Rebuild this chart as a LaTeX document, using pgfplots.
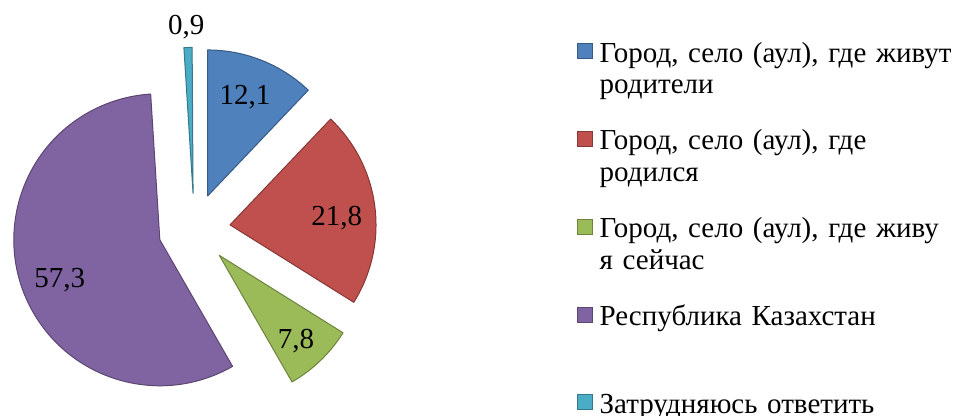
\documentclass[border=0pt]{standalone}
\usepackage{pgfplots}
\pgfplotsset{compat=1.18}
\usepackage{pgfplotstable}
\usepackage{fontspec}
\setmainfont{Liberation Serif}
\definecolor{cblue}{HTML}{4F81BD}
\definecolor{cred}{HTML}{C0504D}
\definecolor{cgreen}{HTML}{9BBB59}
\definecolor{cpurple}{HTML}{8064A2}
\definecolor{ccyan}{HTML}{4BACC6}

% value, colour, label distance from slice apex, label angle nudge (clockwise, deg)
\pgfplotstableread{
value col ldist loff
12.1 cblue 106 -1.2
21.8 cred 107 3.4
7.8 cgreen 115 2
57.3 cpurple 108 -5.2
0.9 ccyan 166 -0.4
}\piedata

\def\cx{194.3}\def\cy{186.6}\def\R{146}\def\ex{36}
\newcommand\lblfont{\fontsize{14.5}{16}\selectfont}

\begin{document}
\begin{tikzpicture}
\path[use as bounding box] (0,0) rectangle (476.5pt,208pt);
\begin{axis}[at={(0,0)}, anchor=south west, scale only axis,
  width=476.5pt, height=208pt, xmin=0, xmax=953, ymin=0, ymax=416,
  hide axis, clip=false,
  legend image code/.code={\filldraw[#1] (0pt,1.7pt) rectangle (7.5pt,9.2pt);},
  legend style={at={(0.6051,0.9050)}, anchor=north west, draw=none, fill=none,
    inner sep=0pt, row sep=12.2pt, column sep=3.3pt,
    cells={anchor=base west},
    nodes={inner sep=0pt, text width=200pt, align=left,
      text height=11.1pt, text depth=20.6pt,
      font=\fontsize{14.5}{15.85}\selectfont}},
]
\gdef\cum{0}
\pgfplotsforeachungrouped \ii in {0,...,4}{%
  \pgfplotstablegetelem{\ii}{value}\of\piedata \let\pv\pgfplotsretval
  \pgfplotstablegetelem{\ii}{col}\of\piedata \let\pc\pgfplotsretval
  \pgfplotstablegetelem{\ii}{ldist}\of\piedata \let\pld\pgfplotsretval
  \pgfplotstablegetelem{\ii}{loff}\of\piedata \let\plo\pgfplotsretval
  \pgfmathsetmacro\aS{90-3.6*\cum}%
  \pgfmathsetmacro\aE{90-3.6*(\cum+\pv)}%
  \pgfmathsetmacro\aM{(\aS+\aE)/2}%
  \pgfmathsetmacro\px{\cx+\ex*cos(\aM)}%
  \pgfmathsetmacro\py{\cy+\ex*sin(\aM)}%
  \pgfmathsetmacro\sx{\px+\R*cos(\aS)}%
  \pgfmathsetmacro\sy{\py+\R*sin(\aS)}%
  \pgfmathsetmacro\aL{\aM-\plo}%
  \pgfmathsetmacro\lx{\px+\pld*cos(\aL)}%
  \pgfmathsetmacro\ly{\py+\pld*sin(\aL)}%
  \edef\temp{\noexpand\filldraw[fill=\pc, draw=\pc!70!black, line width=0.5pt, line join=round]
    (axis cs:\px,\py) -- (axis cs:\sx,\sy) arc[start angle=\aS, end angle=\aE, radius=73pt] -- cycle;
    \noexpand\node[font=\noexpand\lblfont] at (axis cs:\lx,\ly)
    {\noexpand\pgfmathprintnumber[assume math mode=true, use comma, fixed, precision=1, fixed zerofill]{\pv}};}%
  \temp
  \pgfmathsetmacro\cumn{\cum+\pv}%
  \xdef\cum{\cumn}%
}
\addlegendimage{fill=cblue, draw=cblue!70!black, line width=0.5pt}
\addlegendentry{\strut Город, село (аул), где живут\\родители\strut}
\addlegendimage{fill=cred, draw=cred!70!black, line width=0.5pt}
\addlegendentry{\strut Город, село (аул), где\\родился\strut}
\addlegendimage{fill=cgreen, draw=cgreen!70!black, line width=0.5pt}
\addlegendentry{\strut Город, село (аул), где живу\\я сейчас\strut}
\addlegendimage{fill=cpurple, draw=cpurple!70!black, line width=0.5pt}
\addlegendentry{\strut Республика Казахстан\\\strut}
\addlegendimage{fill=ccyan, draw=ccyan!70!black, line width=0.5pt}
\addlegendentry{\strut Затрудняюсь ответить\\\strut}
\end{axis}
\end{tikzpicture}
\end{document}
